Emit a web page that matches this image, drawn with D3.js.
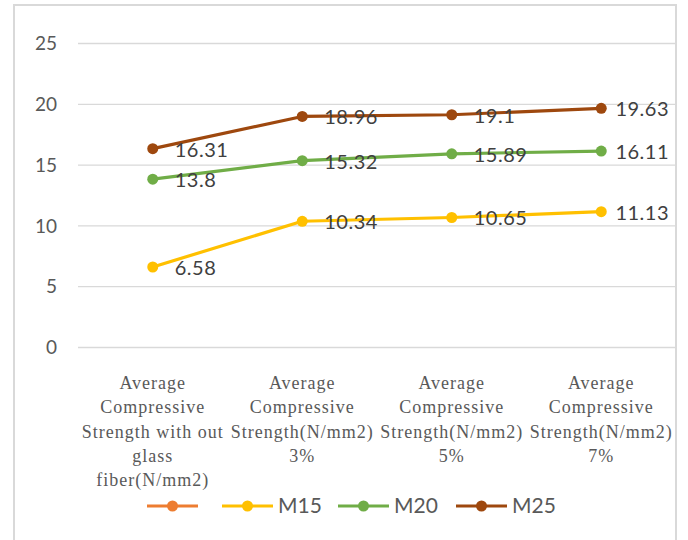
<!DOCTYPE html>
<html><head><meta charset="utf-8">
<script src="https://cdn.jsdelivr.net/npm/d3@7"></script>
<style>body{margin:0;background:#fff}svg{display:block}</style>
</head><body>
<svg id="c" width="688" height="540"></svg>
<script>
const categories = [
  ["Average","Compressive","Strength with out","glass","fiber(N/mm2)"],
  ["Average","Compressive","Strength(N/mm2)","3%"],
  ["Average","Compressive","Strength(N/mm2)","5%"],
  ["Average","Compressive","Strength(N/mm2)","7%"]
];
const seriesNames = ["", "M15", "M20", "M25"];
const seriesColors = ["#ED7D31", "#FFC000", "#70AD47", "#9E480E"];
const valuesBlank = [];
const valuesM15 = [6.58, 10.34, 10.65, 11.13];
const valuesM20 = [13.8, 15.32, 15.89, 16.11];
const valuesM25 = [16.31, 18.96, 19.1, 19.63];
const yTicks = [0, 5, 10, 15, 20, 25];

const series = [
  {name: seriesNames[0], color: seriesColors[0], values: valuesBlank},
  {name: seriesNames[1], color: seriesColors[1], values: valuesM15},
  {name: seriesNames[2], color: seriesColors[2], values: valuesM20},
  {name: seriesNames[3], color: seriesColors[3], values: valuesM25}
];

const svg = d3.select("#c");
// outer border
svg.append("rect").attr("x",14).attr("y",5).attr("width",662).attr("height",560)
  .attr("fill","none").attr("stroke","#d9d9d9").attr("stroke-width",2);

const x = d3.scaleBand().domain(d3.range(categories.length)).range([78, 676]);
const y = d3.scaleLinear().domain([0, 25]).range([347, 43]);

// gridlines
const yAxis = d3.axisLeft(y).tickValues(yTicks).tickSize(-(676-78)).tickPadding(21);
const gy = svg.append("g").attr("transform","translate(78,0)").call(yAxis);
gy.select(".domain").remove();
gy.selectAll(".tick line").attr("stroke","#d9d9d9").attr("stroke-width",1.3);
gy.selectAll(".tick text").attr("fill","#595959").style("font-family","Lato, sans-serif")
  .style("font-size","19px").attr("dy","0.35em");

// category labels
const xAxis = d3.axisBottom(x).tickSize(0).tickFormat("");
const gx = svg.append("g").attr("transform","translate(0,347)").call(xAxis);
gx.select(".domain").remove();
gx.selectAll(".tick").each(function(d){
  const t = d3.select(this).append("text")
    .attr("text-anchor","middle").attr("fill","#595959")
    .style("font-family","'Liberation Serif', serif").style("font-size","18px")
    .style("letter-spacing","1px");
  categories[d].forEach((line,i)=>{
    t.append("tspan").attr("x",0).attr("y",42 + i*24.3).text(line);
  });
});

const cx = i => x(i) + x.bandwidth()/2;
const line = d3.line().x((d,i)=>cx(i)).y(d=>y(d));

series.forEach(s=>{
  if (!s.values.length) return;
  svg.append("path").datum(s.values).attr("d", line)
    .attr("fill","none").attr("stroke", s.color).attr("stroke-width",3.2)
    .attr("stroke-linejoin","round").attr("stroke-linecap","round");
  svg.append("g").selectAll("circle").data(s.values).join("circle")
    .attr("cx",(d,i)=>cx(i)).attr("cy",d=>y(d)).attr("r",5.5).attr("fill",s.color);
});
series.forEach(s=>{
  svg.append("g").selectAll("text").data(s.values).join("text")
    .attr("x",(d,i)=>cx(i)+22).attr("y",d=>y(d)+1).attr("dy","0.35em")
    .attr("fill","#404040").style("font-family","Lato, sans-serif").style("font-size","20px")
    .style("letter-spacing","0.5px")
    .text(d=>d)
    .each(function(){
      const w = this.getComputedTextLength();
      const x0 = +this.getAttribute("x");
      if (x0 + w > 669) this.setAttribute("x", 669 - w);
    });
});

// legend
const legendX = [147, 222, 338, 456];
const lg = svg.append("g");
series.forEach((s,i)=>{
  const g = lg.append("g").attr("transform",`translate(${legendX[i]},506)`);
  g.append("line").attr("x1",0).attr("x2",51).attr("stroke",s.color).attr("stroke-width",3.2);
  g.append("circle").attr("cx",25.5).attr("r",5.5).attr("fill",s.color);
  if (s.name) g.append("text").attr("x",56).attr("dy","0.35em").attr("fill","#595959")
    .style("font-family","Lato, sans-serif").style("font-size","21px").text(s.name);
});
</script>
</body></html>
